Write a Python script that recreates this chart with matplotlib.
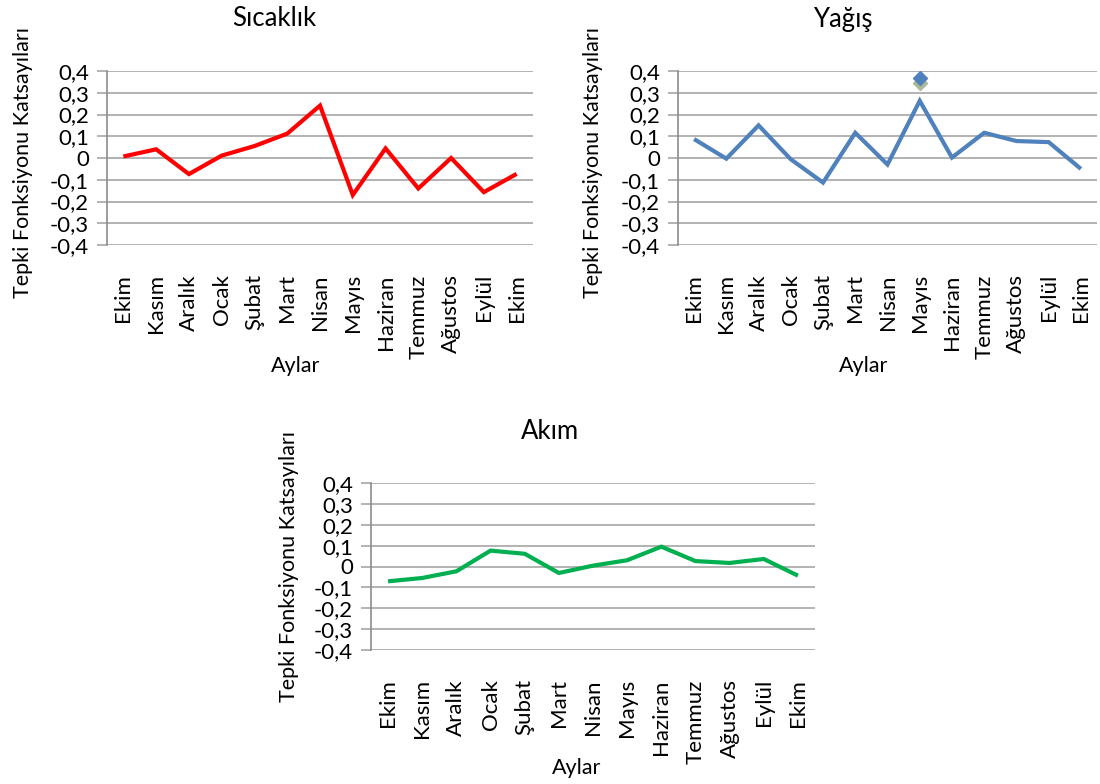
import matplotlib
matplotlib.use("Agg")
import matplotlib.pyplot as plt

plt.rcParams["font.family"] = ["Lato", "DejaVu Sans"]

months = ["Ekim", "Kasım", "Aralık", "Ocak", "Şubat", "Mart", "Nisan",
          "Mayıs", "Haziran", "Temmuz", "Ağustos", "Eylül", "Ekim"]

sicaklik = [0.007, 0.040, -0.074, 0.011, 0.055, 0.112, 0.241,
            -0.170, 0.044, -0.140, 0.000, -0.157, -0.073]
yagis = [0.087, -0.003, 0.150, -0.006, -0.113, 0.116, -0.030,
         0.263, 0.002, 0.116, 0.078, 0.073, -0.050]
akim = [-0.071, -0.055, -0.023, 0.076, 0.061, -0.031, 0.004,
        0.030, 0.095, 0.026, 0.017, 0.036, -0.044]

# stray diamond markers in the precipitation panel (month index, value)
yagis_markers_x = [7, 7]
yagis_markers_y = [0.344, 0.368]
yagis_markers_c = ["#A9B896", "#4F81BD"]

yticks = [-0.4, -0.3, -0.2, -0.1, 0, 0.1, 0.2, 0.3, 0.4]
ytick_labels = ["-0,4", "-0,3", "-0,2", "-0,1", "0", "0,1", "0,2", "0,3", "0,4"]

GRID = "#A6A6A6"
SPINE = "#8C8C8C"

W, H = 1100, 784
fig = plt.figure(figsize=(11, 7.84), dpi=100)

FS_TICK = 16
FS_LAB = 15.5
FS_TITLE = 18.5


def px_axes(x0, y0, x1, y1):
    return fig.add_axes([x0 / W, 1 - y1 / H, (x1 - x0) / W, (y1 - y0) / H])


def style(ax, values, color):
    x = list(range(len(values)))
    ax.plot(x, values, color=color, lw=3.0, solid_joinstyle="miter",
            solid_capstyle="butt", zorder=3)
    ax.set_xlim(-0.5, len(values) - 0.5)
    ax.set_ylim(-0.4, 0.4)
    ax.set_yticks(yticks)
    ax.set_yticklabels(ytick_labels)
    ax.set_xticks(x)
    ax.set_xticklabels(months, rotation=90, ha="center", va="top")
    ax.grid(axis="y", color=GRID, lw=1.2, zorder=0)
    for s in ("top", "right", "bottom"):
        ax.spines[s].set_visible(False)
    ax.spines["left"].set_color(SPINE)
    ax.spines["left"].set_linewidth(1.2)
    ax.tick_params(axis="y", length=7, width=1.2, color=GRID, pad=6,
                   labelsize=FS_TICK, labelcolor="#000000")
    ax.tick_params(axis="x", length=0, pad=21, labelsize=FS_TICK)
    ax.set_axisbelow(True)


ax1 = px_axes(107, 71, 533, 245)
style(ax1, sicaklik, "#FF0000")
ax2 = px_axes(678, 71, 1097, 245)
style(ax2, yagis, "#4F81BD")
for mx, my, mc in zip(yagis_markers_x, yagis_markers_y, yagis_markers_c):
    ax2.plot([mx], [my], marker="D", ms=7, color=mc, ls="none", zorder=4,
             clip_on=False)
ax3 = px_axes(371, 483, 815, 650)
style(ax3, akim, "#00B050")

ylab = "Tepki Fonksiyonu Katsayıları"
fig.text(23 / W, 1 - 163 / H, ylab, rotation=90, ha="center", va="center", fontsize=FS_LAB)
fig.text(593 / W, 1 - 163 / H, ylab, rotation=90, ha="center", va="center", fontsize=FS_LAB)
fig.text(289 / W, 1 - 566 / H, ylab, rotation=90, ha="center", va="center", fontsize=FS_LAB)

fig.text(296 / W, 1 - 366 / H, "Aylar", ha="center", va="center", fontsize=FS_LAB)
fig.text(864 / W, 1 - 366 / H, "Aylar", ha="center", va="center", fontsize=FS_LAB)
fig.text(577 / W, 1 - 768 / H, "Aylar", ha="center", va="center", fontsize=FS_LAB)

fig.text(274 / W, 1 - 19 / H, "Sıcaklık", ha="center", va="center", fontsize=FS_TITLE)
fig.text(843 / W, 1 - 19 / H, "Yağış", ha="center", va="center", fontsize=FS_TITLE)
fig.text(550 / W, 1 - 432 / H, "Akım", ha="center", va="center", fontsize=FS_TITLE)

fig.savefig("out.png", dpi=100, facecolor="white")
